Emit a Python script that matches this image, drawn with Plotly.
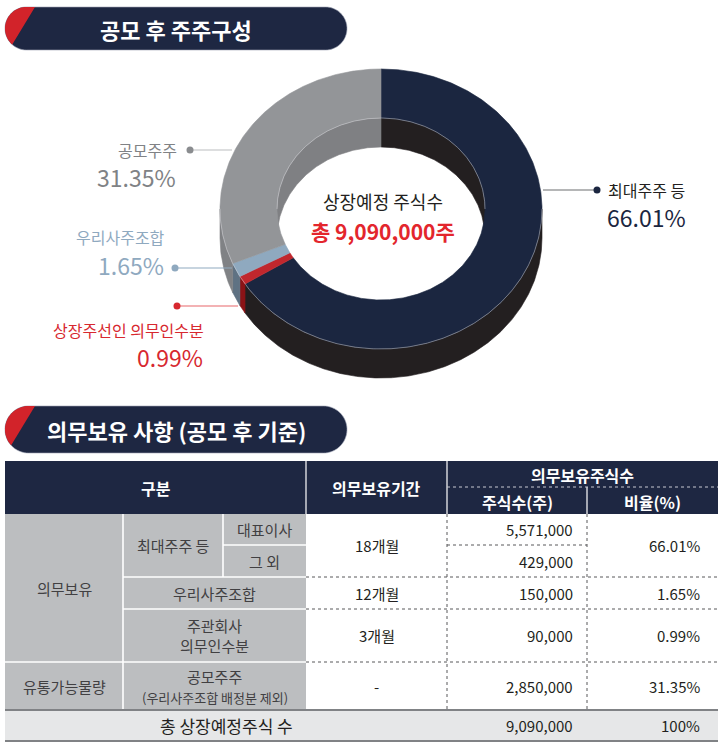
import numpy as np
import plotly.graph_objects as go

# ---------------- data ----------------
donut_labels = ['최대주주 등', '상장주선인 의무인수분', '우리사주조합', '공모주주']
donut_shares = [6000000, 90000, 150000, 2850000]
donut_pcts = ['66.01%', '0.99%', '1.65%', '31.35%']
center_title = '상장예정 주식수'
center_total = '총 9,090,000주'

title_top = '공모 후 주주구성'
title_bottom = '의무보유 사항 (공모 후 기준)'

header_labels = ['구분', '의무보유기간', '의무보유주식수', '주식수(주)', '비율(%)']
group_labels = ['의무보유', '유통가능물량']
sub_labels = ['최대주주 등', '우리사주조합', '주관회사<br>의무인수분', '공모주주']
sub_note = '(우리사주조합 배정분 제외)'
holder_labels = ['대표이사', '그 외']
table_periods = ['18개월', '12개월', '3개월', '-']
table_shares = ['5,571,000', '429,000', '150,000', '90,000', '2,850,000']
table_ratios = ['66.01%', '1.65%', '0.99%', '31.35%']
total_row = ['총 상장예정주식 수', '9,090,000', '100%']

# ---------------- styles / layout ----------------
W, H = 722, 745
FONT = 'Noto Sans CJK KR'
NAVY = '#1e2742'
RED = '#d2232a'
top_colors = ['#1b2640', '#c1272d', '#8fa9bf', '#939598']
side_colors = ['#231f20', '#8b1316', '#5f7283', '#808285']
inner_colors = ['#231f20', '#8b1316', '#5f7283', '#7f8083']

CX, CY = 381, 209
RX, RY = 161, 140
RXI, RYI = 104, 91
DEPTH = 29

fig = go.Figure()


def ell(rx, ry, t0, t1, dy=0.0):
    n = max(2, int(abs(t1 - t0) / 0.5) + 2)
    t = np.radians(np.linspace(t0, t1, n))
    return list(CX + rx * np.sin(t)), list(CY + dy - ry * np.cos(t))


def poly(xs, ys, color):
    fig.add_trace(go.Scatter(x=xs + [xs[0]], y=ys + [ys[0]], mode='lines', fill='toself',
                             fillcolor=color, line=dict(color=color, width=0.6),
                             hoverinfo='skip', showlegend=False))


total = float(sum(donut_shares))
bounds = np.concatenate([[0], np.cumsum(donut_shares)]) / total * 360.0

# outer (front) walls
for i in range(len(donut_shares)):
    a, b = max(bounds[i], 90), min(bounds[i + 1], 270)
    if b > a:
        x1, y1 = ell(RX, RY, a, b)
        x2, y2 = ell(RX, RY, b, a, DEPTH)
        poly(x1 + x2, y1 + y2, side_colors[i])

# inner (back) walls
for i in range(len(donut_shares)):
    for lo, hi in [(0, 90), (270, 360)]:
        a, b = max(bounds[i], lo), min(bounds[i + 1], hi)
        if b > a:
            x1, y1 = ell(RXI, RYI, a, b)
            x2, y2 = ell(RXI, RYI, b, a, DEPTH)
            poly(x1 + x2, y1 + y2, inner_colors[i])

# top faces
for i in range(len(donut_shares)):
    x1, y1 = ell(RX, RY, bounds[i], bounds[i + 1])
    x2, y2 = ell(RXI, RYI, bounds[i + 1], bounds[i])
    poly(x1 + x2, y1 + y2, top_colors[i])

# highlight edges
for rx, ry, a, b in [(RX, RY, 90, 270), (RXI, RYI, -90, 90)]:
    xs, ys = ell(rx, ry, a, b)
    fig.add_trace(go.Scatter(x=xs, y=ys, mode='lines', line=dict(color='rgba(220,220,225,0.55)', width=0.8),
                             hoverinfo='skip', showlegend=False))

# labels with connectors
label_layout = [
    dict(dot=(597, 190), end=(543, 190), tx=607, anchor='left', ny=190, py=217,
         name_color='#231f20', pct_color='#1b2640', dot_color='#1b2640', line_color='#6d6e71'),
    dict(dot=(177, 306), end=(238, 306), tx=205, anchor='right', ny=330, py=357,
         name_color='#d7282f', pct_color='#d7282f', dot_color='#d7282f', line_color='#e8676b'),
    dict(dot=(175, 268), end=(232, 268), tx=166, anchor='right', ny=237, py=265,
         name_color='#8fa9bf', pct_color='#8fa9bf', dot_color='#8fa9bf', line_color='#8fa9bf'),
    dict(dot=(190, 150), end=(232, 150), tx=178, anchor='right', ny=150, py=177,
         name_color='#808285', pct_color='#808285', dot_color='#8a8c8f', line_color='#bcbec0'),
]

annotations = []


def text(x, y, s, size, color, anchor='center', bold=False, family=FONT):
    if bold:
        s = '<b>' + s + '</b>'
    annotations.append(dict(x=x, y=y, xref='x', yref='y', text=s, showarrow=False,
                            xanchor=anchor, yanchor='middle', borderpad=0,
                            font=dict(family=family, size=size, color=color)))


for i, L in enumerate(label_layout):
    fig.add_trace(go.Scatter(x=[L['dot'][0], L['end'][0]], y=[L['dot'][1], L['end'][1]], mode='lines',
                             line=dict(color=L['line_color'], width=1.2), hoverinfo='skip', showlegend=False))
    fig.add_trace(go.Scatter(x=[L['dot'][0]], y=[L['dot'][1]], mode='markers',
                             marker=dict(color=L['dot_color'], size=7), hoverinfo='skip', showlegend=False))
    text(L['tx'], L['ny'], donut_labels[i], 16, L['name_color'], L['anchor'])
    text(L['tx'] - 1, L['py'], donut_pcts[i], 23, L['pct_color'], L['anchor'])

text(CX + 2, 201, center_title, 18, '#231f20')
text(CX + 2, 231, center_total, 21, '#e3262d', bold=True)

# ---------------- banners ----------------
shapes = []


def pill_points(x0, x1, y0, y1):
    r = (y1 - y0) / 2.0
    yc = (y0 + y1) / 2.0
    pts = []
    for t in np.linspace(90, 270, 40):  # left semicircle top->bottom
        a = np.radians(t)
        pts.append((x0 + r + r * np.cos(a), yc - r * np.sin(a)))
    for t in np.linspace(270, 450, 40):  # right semicircle bottom->top
        a = np.radians(t)
        pts.append((x1 - r + r * np.cos(a), yc - r * np.sin(a)))
    return pts


def clip_left(pts, p, q):
    def side(pt):
        return (q[0] - p[0]) * (pt[1] - p[1]) - (q[1] - p[1]) * (pt[0] - p[0])
    out = []
    n = len(pts)
    for k in range(n):
        cur, nxt = pts[k], pts[(k + 1) % n]
        sc, sn = side(cur), side(nxt)
        if sc >= 0:
            out.append(cur)
        if (sc >= 0) != (sn >= 0):
            tt = sc / (sc - sn)
            out.append((cur[0] + tt * (nxt[0] - cur[0]), cur[1] + tt * (nxt[1] - cur[1])))
    return out


def path_of(pts):
    return 'M ' + ' L '.join('%.2f,%.2f' % pt for pt in pts) + ' Z'


for (y0, y1, label) in [(7, 50, title_top), (406, 453, title_bottom)]:
    pts = pill_points(5, 347, y0, y1)
    shapes.append(dict(type='path', path=path_of(pts), xref='x', yref='y', fillcolor=NAVY,
                       line=dict(color='#9ea3b3', width=0.6)))
    p = (35, y0)
    q = (35 - 0.605 * (y1 - y0), y1)
    red = clip_left(pts, p, q)
    shapes.append(dict(type='path', path=path_of(red), xref='x', yref='y', fillcolor=RED,
                       line=dict(width=0)))
    text(176, (y0 + y1) / 2.0, label, 22, 'white', bold=True)

# ---------------- table ----------------
TX = [5, 123, 223, 306, 447, 587, 718]
TY = [461, 487, 514, 545, 577, 609, 662, 710, 741]


def rect(x0, y0, x1, y1, color):
    shapes.append(dict(type='rect', x0=x0, x1=x1, y0=y0, y1=y1, xref='x', yref='y',
                       fillcolor=color, line=dict(width=0), layer='below'))


def seg(x0, y0, x1, y1, color, width=1, dash='solid'):
    shapes.append(dict(type='line', x0=x0, x1=x1, y0=y0, y1=y1, xref='x', yref='y',
                       line=dict(color=color, width=width, dash=dash)))


rect(TX[0], TY[0], TX[6], TY[2], NAVY)
rect(TX[0], TY[2], TX[3], TY[7], '#bcbec0')
rect(TX[0], TY[7], TX[6], TY[8], '#e6e7e8')

WL = 1.6
seg(TX[1], TY[2], TX[1], TY[7], 'white', WL)
seg(TX[2], TY[2], TX[2], TY[4], 'white', WL)
seg(TX[2], TY[3], TX[3], TY[3], 'white', WL)
seg(TX[1], TY[4], TX[3], TY[4], 'white', WL)
seg(TX[1], TY[5], TX[3], TY[5], 'white', WL)
seg(TX[0], TY[6], TX[3], TY[6], 'white', WL)

seg(TX[3], TY[0], TX[3], TY[2], 'white', 1.2)
seg(TX[4], TY[0], TX[4], TY[2], 'white', 1.2)
seg(TX[5], TY[1], TX[5], TY[2], 'white', 1.2)
seg(TX[4], TY[1], TX[6], TY[1], '#c7c9d1', 1, 'dot')

DOT = '#58595b'
seg(TX[4], TY[3], TX[5], TY[3], DOT, 1, 'dot')
for yy in (TY[4], TY[5], TY[6]):
    seg(TX[3], yy, TX[6], yy, DOT, 1, 'dot')
seg(TX[4], TY[2], TX[4], TY[7], DOT, 1, 'dot')
seg(TX[5], TY[2], TX[5], TY[7], DOT, 1, 'dot')
seg(TX[0], TY[7], TX[6], TY[7], '#808285', 2)
seg(TX[0], TY[8], TX[6], TY[8], '#808285', 2)

# header text
hy = (TY[0] + TY[2]) / 2.0
text((TX[0] + TX[3]) / 2, hy, header_labels[0], 16, 'white', bold=True)
text((TX[3] + TX[4]) / 2, hy, header_labels[1], 16, 'white', bold=True)
text((TX[4] + TX[6]) / 2, (TY[0] + TY[1]) / 2 + 1, header_labels[2], 16, 'white', bold=True)
text((TX[4] + TX[5]) / 2, (TY[1] + TY[2]) / 2 + 1, header_labels[3], 16, 'white', bold=True)
text((TX[5] + TX[6]) / 2, (TY[1] + TY[2]) / 2 + 1, header_labels[4], 16, 'white', bold=True)

GT = '#414042'
BT = '#231f20'
BS = 15
rc = [(TY[k] + TY[k + 1]) / 2.0 for k in range(2, 8)]  # row centres

text((TX[0] + TX[1]) / 2, (TY[2] + TY[6]) / 2, group_labels[0], BS, GT)
text((TX[0] + TX[1]) / 2, rc[4], group_labels[1], BS, GT)
text((TX[1] + TX[2]) / 2, (TY[2] + TY[4]) / 2, sub_labels[0], BS, GT)
text((TX[2] + TX[3]) / 2, rc[0], holder_labels[0], BS, GT)
text((TX[2] + TX[3]) / 2, rc[1], holder_labels[1], BS, GT)
text((TX[1] + TX[3]) / 2, rc[2], sub_labels[1], BS, GT)
text((TX[1] + TX[3]) / 2, rc[3], sub_labels[2], BS, GT)
text((TX[1] + TX[3]) / 2, rc[4] - 10, sub_labels[3], BS, GT)
text((TX[1] + TX[3]) / 2, rc[4] + 11, sub_note, 13, GT)

pc = (TX[3] + TX[4]) / 2
period_rows = [(TY[2] + TY[4]) / 2, rc[2], rc[3], rc[4]]
for s, yy in zip(table_periods, period_rows):
    text(pc, yy, s, BS, BT)

share_rows = [rc[0], rc[1], rc[2], rc[3], rc[4]]
for s, yy in zip(table_shares, share_rows):
    text(TX[5] - 13, yy, s, BS, BT, 'right')
ratio_rows = [(TY[2] + TY[4]) / 2, rc[2], rc[3], rc[4]]
for s, yy in zip(table_ratios, ratio_rows):
    text(TX[6] - 17, yy, s, BS, BT, 'right')

text((TX[0] + TX[4]) / 2, rc[5], total_row[0], 17, BT)
text(TX[5] - 13, rc[5], total_row[1], BS, BT, 'right')
text(TX[6] - 17, rc[5], total_row[2], BS, BT, 'right')

fig.update_layout(
    width=W, height=H, margin=dict(l=0, r=0, t=0, b=0),
    paper_bgcolor='white', plot_bgcolor='white', showlegend=False,
    xaxis=dict(range=[0, W], visible=False, fixedrange=True),
    yaxis=dict(range=[H, 0], visible=False, fixedrange=True),
    shapes=shapes, annotations=annotations,
    font=dict(family=FONT),
)
fig.write_html('out.html')
